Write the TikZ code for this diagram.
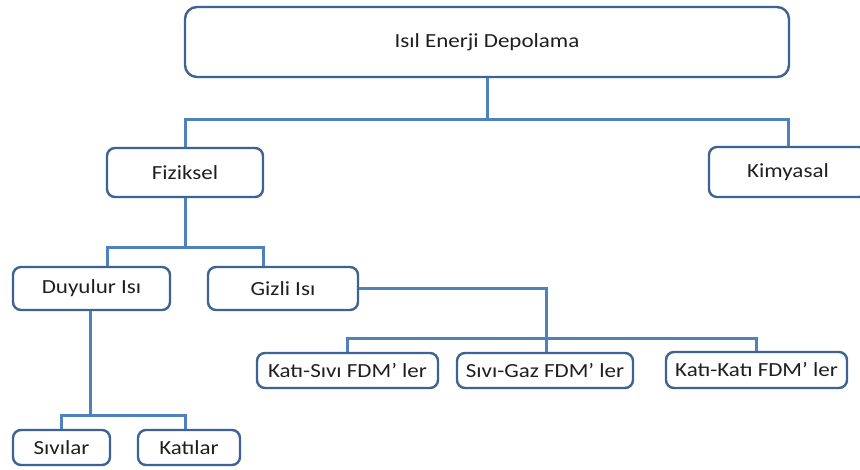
\documentclass[tikz,border=0pt]{standalone}
\usepackage{fontspec}
\setmainfont{Carlito}[FakeStretch=1.15]
\definecolor{boxline}{RGB}{62,98,148}
\definecolor{conn}{RGB}{79,129,189}
\begin{document}
\begin{tikzpicture}[x=1pt,y=-1pt,
  box/.style={draw=boxline,line width=2.4pt,fill=white,rounded corners=8pt,
    inner sep=0pt,text=black!88,font=\fontsize{20}{24}\selectfont},
  link/.style={draw=conn,line width=3pt,line join=miter}]
\clip (0,0) rectangle (860,469);
\fill[white] (0,0) rectangle (860,469);
\coordinate (c1) at (487,119);
\coordinate (c2) at (185,247);
\coordinate (c3) at (546,338);
\coordinate (c4) at (90,415);
% nodes
\node[box,rounded corners=12pt,minimum width=604pt,minimum height=70pt] (top) at (487,42) {Isıl Enerji Depolama};
\node[box,minimum width=156pt,minimum height=49pt] (fiz) at (185,172.5) {Fiziksel};
\node[box,minimum width=158pt,minimum height=50pt] (kim) at (788,172) {Kimyasal};
\node[box,minimum width=157pt,minimum height=43pt] (duy) at (91.5,288.5) {Duyulur Isı};
\node[box,minimum width=150pt,minimum height=43pt] (giz) at (283,288.5) {Gizli Isı};
\node[box,minimum width=181pt,minimum height=35pt] (ks) at (347.5,370.5) {Katı-Sıvı FDM’ ler};
\node[box,minimum width=176pt,minimum height=35pt] (sg) at (545,370.5) {Sıvı-Gaz FDM’ ler};
\node[box,minimum width=181pt,minimum height=36pt] (kk) at (756.5,370) {Katı-Katı FDM’ ler};
\node[box,minimum width=97pt,minimum height=35pt] (siv) at (61.5,447.5) {Sıvılar};
\node[box,minimum width=102pt,minimum height=35pt] (kat) at (189,447.5) {Katılar};
% connectors
\draw[link] (top.south) -- (c1);
\draw[link] (fiz.north) -- (fiz.north |- c1) -- (kim.north |- c1) -- (kim.north);
\draw[link] (fiz.south) -- (c2);
\draw[link] ([xshift=15.5pt]duy.north) |- (c2) -| ([xshift=-20pt]giz.north);
\draw[link] (duy.south -| c4) -- (c4);
\draw[link] (siv.north) |- (c4) -| ([xshift=-4pt]kat.north);
\draw[link] (giz.east) -| (c3);
\draw[link] (ks.north) |- (c3) -| (kk.north);
\draw[link] (sg.north -| c3) -- (c3);
\end{tikzpicture}
\end{document}
